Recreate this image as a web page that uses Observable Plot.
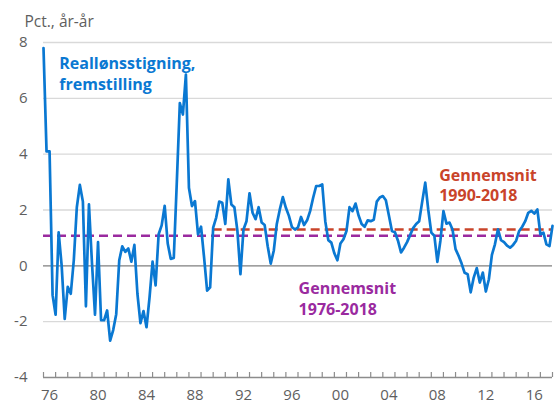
<!DOCTYPE html>
<html>
<head>
<meta charset="utf-8">
<script src="https://cdn.jsdelivr.net/npm/d3@7"></script>
<script src="https://cdn.jsdelivr.net/npm/@observablehq/plot@0.6"></script>
<style>
  html, body { margin: 0; padding: 0; background: #fff; }
  #chart svg { display: block; }
</style>
</head>
<body>
<div id="chart"></div>
<script>
// Quarterly real wage growth, manufacturing (pct., year-on-year), from 1976Q1
const startYear = 1976;
const realWageGrowth = [
  7.8, 4.1, 4.1, -1.05, -1.75, 1.2, 0.0, -1.9, -0.75, -1.0,
  0.2, 2.1, 2.9, 2.3, -1.45, 2.2, 0.1, -1.75, 0.85, -1.95,
  -1.95, -1.6, -2.68, -2.3, -1.73, 0.2, 0.7, 0.5, 0.62, 0.15,
  0.75, -1.0, -2.05, -1.62, -2.2, -1.13, 0.15, -0.7, 1.13, 1.45,
  2.15, 0.8, 0.25, 0.28, 3.0, 5.83, 5.42, 6.85, 2.8, 2.14,
  2.32, 1.13, 1.4, 0.3, -0.89, -0.77, 1.37, 1.73, 2.3, 2.26,
  1.5, 3.1, 2.2, 2.1, 1.25, -0.3, 1.3, 1.6, 2.6, 1.9,
  1.67, 2.1, 1.55, 1.46, 0.7, 0.08, 0.54, 1.5, 2.02, 2.46,
  2.08, 1.79, 1.39, 1.3, 1.38, 1.75, 1.46, 1.63, 1.96, 2.44,
  2.86, 2.86, 2.92, 1.6, 0.92, 0.83, 0.45, 0.2, 0.8, 0.95,
  1.25, 2.1, 1.96, 2.23, 1.8, 1.5, 1.4, 1.63, 1.6, 1.65,
  2.3, 2.45, 2.5, 2.35, 1.8, 1.25, 1.2, 0.9, 0.48, 0.65,
  0.85, 1.1, 1.35, 1.5, 1.6, 2.3, 2.98, 2.0, 1.19, 1.08,
  0.14, 0.9, 1.96, 1.51, 1.55, 1.3, 0.6, 0.36, 0.08, -0.25,
  -0.3, -0.95, -0.42, -0.08, -0.6, -0.24, -0.92, -0.48, 0.39, 0.77,
  1.31, 0.92, 0.85, 0.72, 0.65, 0.75, 0.9, 1.25, 1.4, 1.6,
  1.9, 1.97, 1.87, 2.02, 1.13, 1.19, 0.77, 0.71, 1.43
];

// Averages
const avgNames = ["Gennemsnit\n1976-2018", "Gennemsnit\n1990-2018"];
const avgFrom = [1976, 1990];
const avgTo = [2018, 2018];
const avgValues = [1.08, 1.3];
const avgColors = ["#9a2a9f", "#c9442a"];

// Axis ticks
const yTicks = [-4, -2, 0, 2, 4, 6, 8];
const yearTickMarks = d3.range(1976, 2019);
const xLabelYears = [1976, 1980, 1984, 1988, 1992, 1996, 2000, 2004, 2008, 2012, 2016];
const xTickLabels = ["76", "80", "84", "88", "92", "96", "00", "04", "08", "12", "16"];

// Annotations (anchored in data units)
const annText = ["Reallønsstigning,\nfremstilling", avgNames[1], avgNames[0]];
const annX = [1977.3, 2008.65, 1997.05];
const annY = [7.57, 3.57, -0.5];
const annColor = ["#0a78d2", avgColors[1], avgColors[0]];

const yAxisTitle = "Pct., år-år";

// Build tables
const series = realWageGrowth.map((v, i) => ({date: startYear + i / 4, value: v}));
const averages = avgValues.map((v, i) => ({value: v, from: avgFrom[i], to: avgTo[i], color: avgColors[i]}));
const annotations = annText.map((t, i) => ({text: t, x: annX[i], y: annY[i], color: annColor[i]}));
const xLabelPos = xLabelYears.map(y => y + 0.5);
const labelFor = new Map(xLabelPos.map((p, i) => [p, xTickLabels[i]]));

const grey = "#5e5e5e";

const chart = Plot.plot({
  width: 555,
  height: 403,
  marginLeft: 43,
  marginRight: 3,
  marginTop: 42,
  marginBottom: 26,
  style: {fontFamily: "'Open Sans', sans-serif", fontSize: "15px", color: grey, background: "#ffffff", overflow: "visible"},
  x: {domain: [1976, 2018], axis: null},
  y: {domain: [-4, 8], axis: null},
  marks: [
    Plot.ruleY(yTicks.filter(t => t !== 0 && t !== -4), {stroke: "#d9d9d9", strokeWidth: 1.4}),
    Plot.ruleY([0], {stroke: "#7f7f7f", strokeWidth: 1.4}),
    Plot.ruleY([-4], {stroke: "#8c8c8c", strokeWidth: 1.3}),
    Plot.tickX(yearTickMarks, {x: d => d, stroke: "#8c8c8c", strokeWidth: 1.2, insetTop: 330}),
    Plot.axisX({ticks: xLabelPos, tickSize: 0, tickPadding: 12, tickFormat: d => labelFor.get(d), fontSize: 15, fill: grey}),
    Plot.axisY({ticks: yTicks, tickSize: 0, tickPadding: 16, tickFormat: d => String(d), fontSize: 15, fill: grey}),
    Plot.ruleY(averages, {y: "value", x1: "from", x2: "to", stroke: "color", strokeWidth: 2.6, strokeDasharray: "9,5"}),
    Plot.line(series, {x: "date", y: "value", stroke: "#0a78d2", strokeWidth: 2.7, strokeLinejoin: "round"}),
    Plot.text(annotations, {x: "x", y: "y", text: "text", fill: "color", textAnchor: "start", lineAnchor: "top", lineHeight: 1.28, fontSize: 16, fontWeight: "bold"}),
    Plot.text([yAxisTitle], {frameAnchor: "top-left", dx: -19, dy: -27, textAnchor: "start", lineAnchor: "top", fontSize: 15.5, fill: grey})
  ]
});

document.getElementById("chart").appendChild(chart);
</script>
</body>
</html>
